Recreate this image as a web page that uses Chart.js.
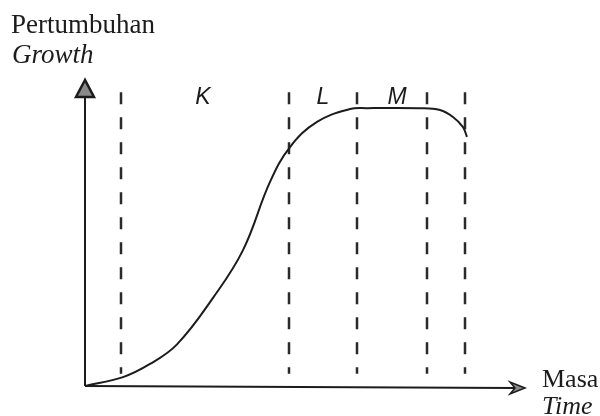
<!DOCTYPE html>
<html>
<head>
<meta charset="utf-8">
<script src="https://cdn.jsdelivr.net/npm/chart.js@4"></script>
<style>
html,body{margin:0;padding:0;background:#fff;}
canvas{display:block;}
</style>
</head>
<body>
<canvas id="chartGrowth" width="600" height="416"></canvas>
<script>
// growth curve (time units, growth units)
const curveX=[0,0.95,1.625,2.3,3.2,3.95,4.625,5.125,5.8,6.625,7.05,8.375,8.875,9.2,9.45,9.55];
const curveY=[0,0.29,0.72,1.36,2.88,4.44,6.67,7.81,8.63,9.05,9.08,9.08,9.02,8.79,8.46,8.14];

// vertical dashed phase boundaries
const dashX=[0.9,5.1,6.8,8.55,9.5];
const dashTop=9.6, dashBottom=0.4;

// phase labels
const phaseLabels=['K','L','M'];
const phaseX=[2.95,5.95,7.8];
const phaseY=9.2;

const yTitle=['Pertumbuhan','Growth'];
const xTitle=['Masa','Time'];

const ink='#1c1c1c';

const datasets=[{
  data:curveX.map((x,i)=>({x,y:curveY[i]})),
  borderColor:ink,borderWidth:2,pointRadius:0,showLine:true,
  tension:0.4,fill:false
}];
dashX.forEach(x=>{
  datasets.push({
    data:[{x,y:dashTop},{x,y:dashBottom}],
    borderColor:'#2a2a2a',borderWidth:2.5,borderDash:[12,13],
    pointRadius:0,showLine:true,borderCapStyle:'butt'
  });
});

const decor={
  id:'decor',
  beforeDraw(chart){
    const c=chart.ctx;
    c.save();c.fillStyle='#fff';c.fillRect(0,0,chart.width,chart.height);c.restore();
  },
  afterDraw(chart){
    const c=chart.ctx, xs=chart.scales.x, ys=chart.scales.y, a=chart.chartArea;
    const x0=xs.getPixelForValue(0), y0=ys.getPixelForValue(0);
    c.save();
    c.strokeStyle=ink;c.lineWidth=2;
    // y axis
    c.beginPath();c.moveTo(x0,y0);c.lineTo(x0,a.top+14);c.stroke();
    c.beginPath();c.moveTo(x0,a.top);c.lineTo(x0-9,a.top+17);c.lineTo(x0+9,a.top+17);c.closePath();
    c.fillStyle='#8a8a8a';c.fill();c.lineWidth=2.5;c.stroke();
    // x axis
    c.lineWidth=2;
    c.beginPath();c.moveTo(x0,y0);c.lineTo(a.right-10,y0+2);c.stroke();
    c.beginPath();c.moveTo(a.right,y0+2);c.lineTo(a.right-15,y0-4);c.lineTo(a.right-10,y0+2);c.lineTo(a.right-15,y0+8);c.closePath();
    c.fillStyle='#8a8a8a';c.fill();c.lineWidth=1.5;c.stroke();
    // phase labels
    c.fillStyle=ink;c.font='italic 23px "Liberation Sans", Arial, sans-serif';
    c.textAlign='center';c.textBaseline='alphabetic';
    phaseLabels.forEach((t,i)=>c.fillText(t,xs.getPixelForValue(phaseX[i]),ys.getPixelForValue(phaseY)));
    // axis titles
    c.textAlign='left';
    c.font='27px "Liberation Serif", "Times New Roman", serif';
    c.fillText(yTitle[0],11,33);
    c.font='italic 27px "Liberation Serif", "Times New Roman", serif';
    c.fillText(yTitle[1],12,63);
    c.font='26px "Liberation Serif", "Times New Roman", serif';
    c.fillText(xTitle[0],542,387);
    c.font='italic 26px "Liberation Serif", "Times New Roman", serif';
    c.fillText(xTitle[1],542,414);
    c.restore();
  }
};

new Chart(document.getElementById('chartGrowth').getContext('2d'),{
  type:'scatter',
  data:{datasets},
  options:{
    responsive:false,animation:false,
    layout:{padding:{left:85,right:75,top:80,bottom:30}},
    plugins:{legend:{display:false},tooltip:{enabled:false}},
    scales:{
      x:{type:'linear',min:0,max:11,display:false},
      y:{type:'linear',min:0,max:10,display:false}
    }
  },
  plugins:[decor]
});
</script>
</body>
</html>
